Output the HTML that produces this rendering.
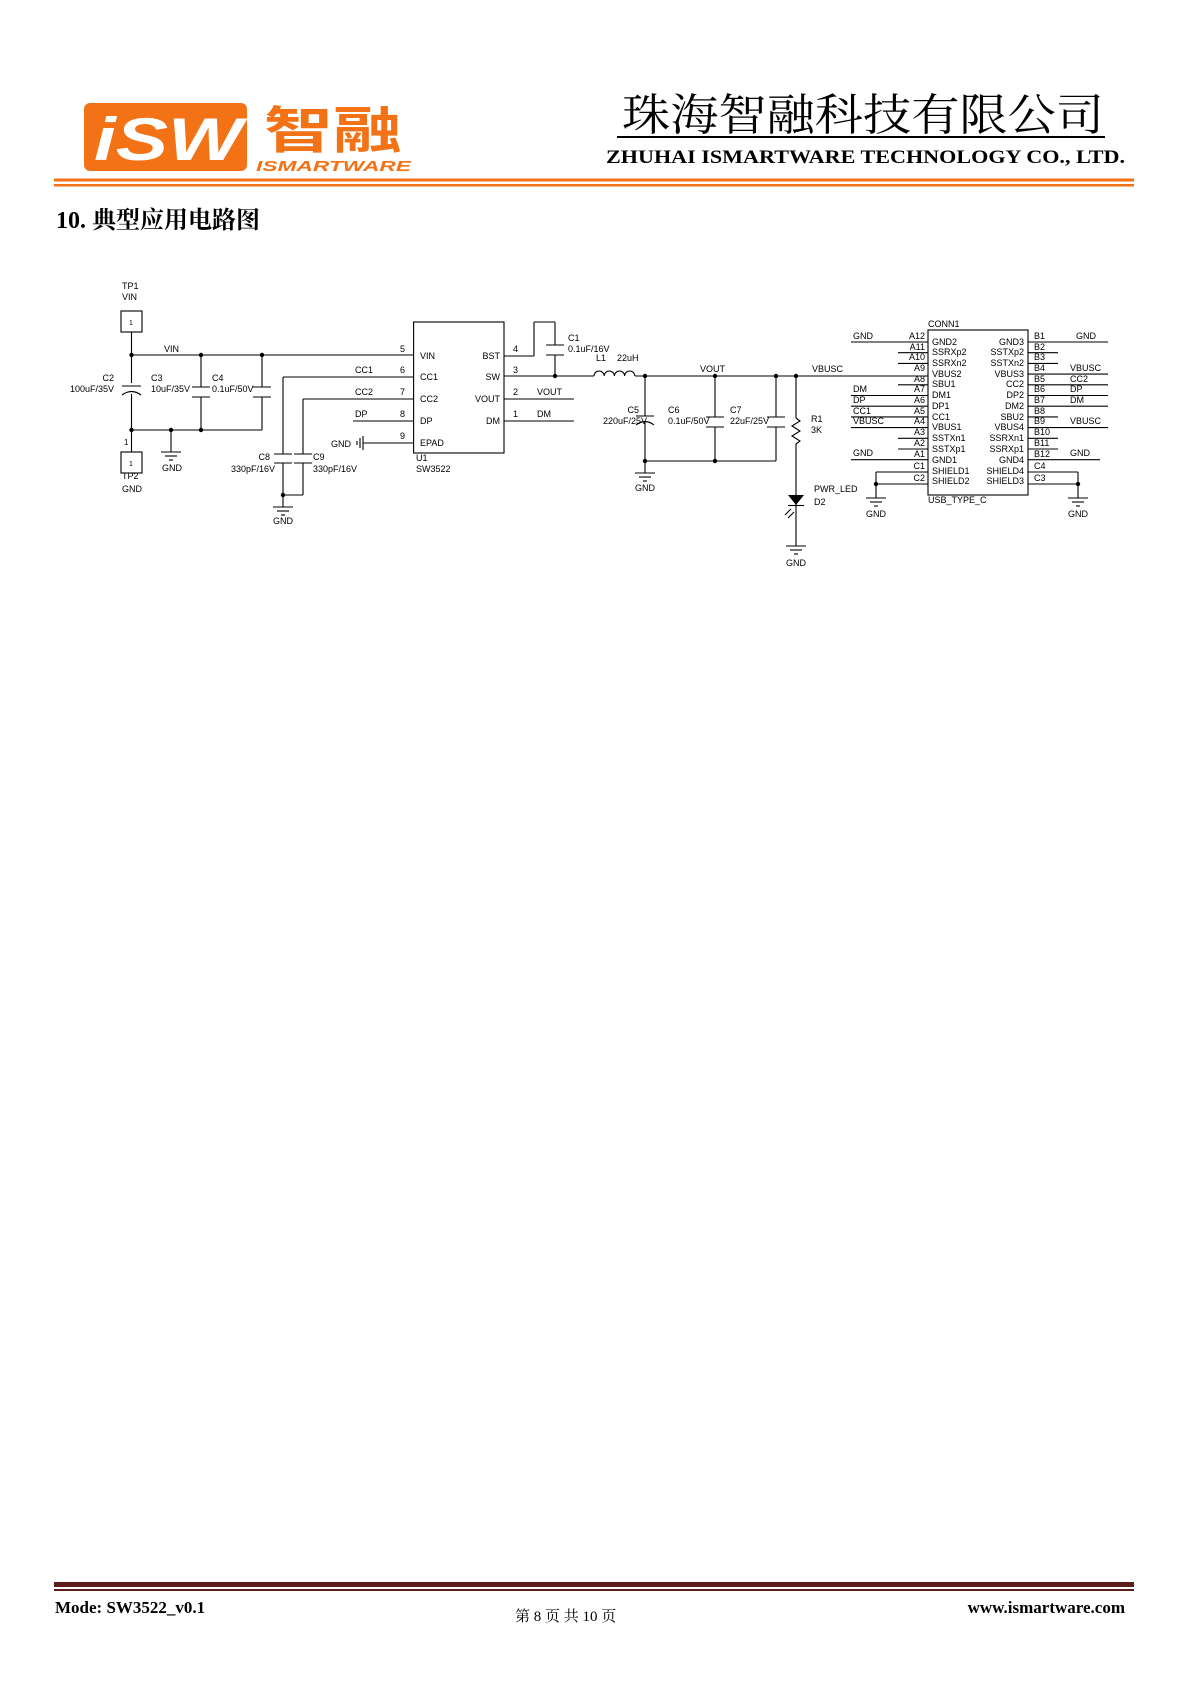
<!DOCTYPE html>
<html><head><meta charset="utf-8"><style>
html,body{margin:0;padding:0;background:#fff;}
svg{display:block;}
.s{font-family:"Liberation Sans",Arial,sans-serif;font-size:9px;fill:#000;}
.w{stroke:#000;stroke-width:1.1;fill:none;}
</style></head><body>
<svg width="1190" height="1683" viewBox="0 0 1190 1683" xmlns="http://www.w3.org/2000/svg">
<!-- Header -->
<rect x="84" y="103" width="163" height="68" rx="6" fill="#f47216"/>
<text x="94" y="160" font-family="Liberation Sans,sans-serif" font-weight="bold" font-style="italic" font-size="60" fill="#fff" textLength="148" lengthAdjust="spacingAndGlyphs">iSW</text>
<text x="264" y="148" font-family="'Liberation Sans','Noto Sans CJK SC',sans-serif" font-weight="bold" font-size="50" fill="#f47216" textLength="138" lengthAdjust="spacingAndGlyphs">智融</text>
<text x="256" y="171" font-family="Liberation Sans,sans-serif" font-weight="bold" font-style="italic" font-size="15" fill="#f47216" textLength="155" lengthAdjust="spacingAndGlyphs">ISMARTWARE</text>
<text x="622" y="130" font-family="'Liberation Serif','Noto Serif CJK SC',serif" font-size="44" fill="#000" textLength="482" lengthAdjust="spacingAndGlyphs">珠海智融科技有限公司</text>
<rect x="617" y="136" width="488" height="2" fill="#000"/>
<text x="606" y="163" font-family="Liberation Serif,serif" font-weight="bold" font-size="19" fill="#000" textLength="519" lengthAdjust="spacingAndGlyphs">ZHUHAI ISMARTWARE TECHNOLOGY CO., LTD.</text>
<rect x="54" y="178.5" width="1080" height="3" fill="#f47216"/>
<rect x="54" y="184" width="1080" height="2.5" fill="#f47216"/>
<text x="56" y="228" font-family="'Liberation Serif','Noto Serif CJK SC',serif" font-weight="bold" font-size="24" fill="#000">10. 典型应用电路图</text>

<!-- Footer -->
<rect x="54" y="1582" width="1080" height="5" fill="#5c1f1c"/>
<rect x="54" y="1589" width="1080" height="2" fill="#5c1f1c"/>
<text x="55" y="1613" font-family="Liberation Serif,serif" font-weight="bold" font-size="17" fill="#000">Mode: SW3522_v0.1</text>
<text x="515" y="1621" font-family="'Liberation Serif','Noto Serif CJK SC',serif" font-size="15" fill="#000">第 8 页 共 10 页</text>
<text x="1125" y="1613" text-anchor="end" font-family="Liberation Serif,serif" font-weight="bold" font-size="17" fill="#000">www.ismartware.com</text>

<!-- Schematic left -->
<g class="w">
<rect x="121" y="311" width="21" height="21"/>
<rect x="121" y="452" width="21" height="21"/>
<line x1="131.5" y1="332" x2="131.5" y2="383"/>
<line x1="131.5" y1="394" x2="131.5" y2="452"/>
<line x1="122" y1="386" x2="141" y2="386"/>
<path d="M122 395 Q131.5 388 141 395"/>
<line x1="131.5" y1="355" x2="413.6" y2="355"/>
<line x1="131.5" y1="430" x2="262" y2="430"/>
<line x1="201" y1="355" x2="201" y2="387"/><line x1="192" y1="387" x2="210" y2="387"/>
<line x1="192" y1="397" x2="210" y2="397"/><line x1="201" y1="397" x2="201" y2="430"/>
<line x1="262" y1="355" x2="262" y2="387"/><line x1="253" y1="387" x2="271" y2="387"/>
<line x1="253" y1="397" x2="271" y2="397"/><line x1="262" y1="397" x2="262" y2="430"/>
<line x1="171" y1="430" x2="171" y2="452"/>
<line x1="161" y1="452" x2="181" y2="452"/><line x1="165" y1="456" x2="177" y2="456"/><line x1="169" y1="460" x2="173" y2="460"/>
<!-- U1 -->
<rect x="413.6" y="322" width="90.4" height="131"/>
<line x1="283" y1="377" x2="413.6" y2="377"/>
<line x1="303" y1="399" x2="413.6" y2="399"/>
<line x1="353" y1="421" x2="413.6" y2="421"/>
<line x1="363.6" y1="443" x2="413.6" y2="443"/>
<line x1="363" y1="436" x2="363" y2="450"/><line x1="360" y1="438" x2="360" y2="448"/><line x1="357" y1="441" x2="357" y2="445"/>
<line x1="283" y1="377" x2="283" y2="454"/><line x1="274" y1="454" x2="292" y2="454"/>
<line x1="274" y1="463" x2="292" y2="463"/><line x1="283" y1="463" x2="283" y2="507"/>
<line x1="303" y1="399" x2="303" y2="454"/><line x1="294" y1="454" x2="312" y2="454"/>
<line x1="294" y1="463" x2="312" y2="463"/><line x1="303" y1="463" x2="303" y2="495"/>
<line x1="283" y1="495" x2="303" y2="495"/>
<line x1="273" y1="507" x2="293" y2="507"/><line x1="277" y1="511" x2="289" y2="511"/><line x1="281" y1="515" x2="285" y2="515"/>
<line x1="504" y1="356" x2="534" y2="356"/><line x1="534" y1="356" x2="534" y2="322"/>
<line x1="534" y1="322" x2="555" y2="322"/><line x1="555" y1="322" x2="555" y2="345"/>
<line x1="546" y1="345" x2="564" y2="345"/><line x1="546" y1="355" x2="564" y2="355"/>
<line x1="555" y1="355" x2="555" y2="376"/>
<line x1="504" y1="376" x2="594" y2="376"/>
<line x1="504" y1="399" x2="574" y2="399"/>
<line x1="504" y1="421" x2="574" y2="421"/>
<!-- inductor -->
<path d="M594 376 a5.1 5 0 0 1 10.2 0 a5.1 5 0 0 1 10.2 0 a5.1 5 0 0 1 10.2 0 a5.1 5 0 0 1 10.2 0"/>
<line x1="635" y1="376" x2="928" y2="376"/>
<line x1="645" y1="376" x2="645" y2="416"/><line x1="636" y1="416" x2="654" y2="416"/>
<path d="M636 425 Q645 418 654 425"/><line x1="645" y1="421" x2="645" y2="473"/>
<line x1="715" y1="376" x2="715" y2="417"/><line x1="706" y1="417" x2="724" y2="417"/>
<line x1="706" y1="427" x2="724" y2="427"/><line x1="715" y1="427" x2="715" y2="461"/>
<line x1="776" y1="376" x2="776" y2="417"/><line x1="767" y1="417" x2="785" y2="417"/>
<line x1="767" y1="427" x2="785" y2="427"/><line x1="776" y1="427" x2="776" y2="461"/>
<line x1="645" y1="461" x2="776" y2="461"/>
<line x1="635" y1="473" x2="655" y2="473"/><line x1="639" y1="477" x2="651" y2="477"/><line x1="643" y1="481" x2="647" y2="481"/>
<line x1="796" y1="376" x2="796" y2="418"/>
<path d="M796 418 l4 3 l-8 5 l8 5 l-8 5 l8 5 l-4 3"/>
<line x1="796" y1="444" x2="796" y2="546"/>
<line x1="786" y1="546" x2="806" y2="546"/><line x1="790" y1="550" x2="802" y2="550"/><line x1="794" y1="554" x2="798" y2="554"/>
<line x1="788" y1="505.5" x2="804" y2="505.5"/>
<line x1="791" y1="509" x2="785" y2="515"/><line x1="794" y1="512" x2="788" y2="518"/>
</g>
<polygon points="788,495 804,495 796,505" fill="#000"/>
<g fill="#000">
<circle cx="131.5" cy="355" r="2.2"/><circle cx="201" cy="355" r="2.2"/><circle cx="262" cy="355" r="2.2"/>
<circle cx="131.5" cy="430" r="2.2"/><circle cx="171" cy="430" r="2.2"/><circle cx="201" cy="430" r="2.2"/>
<circle cx="283" cy="495" r="2.2"/><circle cx="555" cy="376" r="2.2"/>
<circle cx="645" cy="376" r="2.2"/><circle cx="715" cy="376" r="2.2"/><circle cx="776" cy="376" r="2.2"/><circle cx="796" cy="376" r="2.2"/>
<circle cx="645" cy="461" r="2.2"/><circle cx="715" cy="461" r="2.2"/>
<circle cx="876" cy="484" r="2.2"/><circle cx="1078" cy="484" r="2.2"/>
</g>
<g class="s">
<text x="122" y="289">TP1</text><text x="122" y="300">VIN</text>
<text x="129" y="325" font-size="7">1</text><text x="129" y="466" font-size="7">1</text>
<text x="124" y="445" font-size="8">1</text>
<text x="122" y="479">TP2</text><text x="122" y="492">GND</text>
<text x="164" y="352">VIN</text>
<text x="114" y="381" text-anchor="end">C2</text><text x="114" y="392" text-anchor="end">100uF/35V</text>
<text x="151" y="381">C3</text><text x="151" y="392">10uF/35V</text>
<text x="212" y="381">C4</text><text x="212" y="392">0.1uF/50V</text>
<text x="162" y="471">GND</text>
<text x="355" y="373">CC1</text><text x="355" y="395">CC2</text><text x="355" y="417">DP</text>
<text x="331" y="447">GND</text>
<text x="400" y="352">5</text><text x="400" y="373">6</text><text x="400" y="395">7</text><text x="400" y="417">8</text><text x="400" y="439">9</text>
<text x="420" y="359">VIN</text><text x="420" y="380">CC1</text><text x="420" y="402">CC2</text><text x="420" y="424">DP</text><text x="420" y="446">EPAD</text>
<text x="500" y="359" text-anchor="end">BST</text><text x="500" y="380" text-anchor="end">SW</text><text x="500" y="402" text-anchor="end">VOUT</text><text x="500" y="424" text-anchor="end">DM</text>
<text x="513" y="352">4</text><text x="513" y="373">3</text><text x="513" y="395">2</text><text x="513" y="417">1</text>
<text x="537" y="395">VOUT</text><text x="537" y="417">DM</text>
<text x="416" y="461">U1</text><text x="416" y="472">SW3522</text>
<text x="270" y="460" text-anchor="end">C8</text><text x="275" y="472" text-anchor="end">330pF/16V</text>
<text x="313" y="460">C9</text><text x="313" y="472">330pF/16V</text>
<text x="273" y="524">GND</text>
<text x="568" y="341">C1</text><text x="568" y="352">0.1uF/16V</text>
<text x="596" y="361">L1</text><text x="617" y="361">22uH</text>
<text x="700" y="372">VOUT</text><text x="812" y="372">VBUSC</text>
<text x="639" y="413" text-anchor="end">C5</text><text x="647" y="424" text-anchor="end">220uF/25V</text>
<text x="668" y="413">C6</text><text x="668" y="424">0.1uF/50V</text>
<text x="730" y="413">C7</text><text x="730" y="424">22uF/25V</text>
<text x="635" y="491">GND</text>
<text x="811" y="422">R1</text><text x="811" y="433">3K</text>
<text x="814" y="492">PWR_LED</text><text x="814" y="505">D2</text>
<text x="786" y="566">GND</text>
</g>
<!-- CONN1 -->
<g class="w">
<rect x="928" y="330" width="100" height="165"/>
<line x1="851" y1="342" x2="928" y2="342"/>
<line x1="898" y1="352.7" x2="928" y2="352.7"/>
<line x1="898" y1="363.4" x2="928" y2="363.4"/>
<line x1="898" y1="384.8" x2="928" y2="384.8"/>
<line x1="851" y1="395.5" x2="928" y2="395.5"/>
<line x1="851" y1="406.2" x2="928" y2="406.2"/>
<line x1="851" y1="416.9" x2="928" y2="416.9"/>
<line x1="851" y1="427.6" x2="928" y2="427.6"/>
<line x1="898" y1="438.3" x2="928" y2="438.3"/>
<line x1="898" y1="449" x2="928" y2="449"/>
<line x1="851" y1="459.7" x2="928" y2="459.7"/>
<line x1="876" y1="472" x2="928" y2="472"/>
<line x1="876" y1="484" x2="928" y2="484"/>
<line x1="876" y1="472" x2="876" y2="498"/>
<line x1="866" y1="498" x2="886" y2="498"/><line x1="870" y1="502" x2="882" y2="502"/><line x1="874" y1="506" x2="878" y2="506"/>
<line x1="1028" y1="342" x2="1108" y2="342"/>
<line x1="1028" y1="352.7" x2="1058" y2="352.7"/>
<line x1="1028" y1="363.4" x2="1058" y2="363.4"/>
<line x1="1028" y1="374.1" x2="1108" y2="374.1"/>
<line x1="1028" y1="384.8" x2="1108" y2="384.8"/>
<line x1="1028" y1="395.5" x2="1108" y2="395.5"/>
<line x1="1028" y1="406.2" x2="1108" y2="406.2"/>
<line x1="1028" y1="416.9" x2="1058" y2="416.9"/>
<line x1="1028" y1="427.6" x2="1108" y2="427.6"/>
<line x1="1028" y1="438.3" x2="1058" y2="438.3"/>
<line x1="1028" y1="449" x2="1058" y2="449"/>
<line x1="1028" y1="459.7" x2="1100" y2="459.7"/>
<line x1="1028" y1="472" x2="1078" y2="472"/>
<line x1="1028" y1="484" x2="1078" y2="484"/>
<line x1="1078" y1="472" x2="1078" y2="498"/>
<line x1="1068" y1="498" x2="1088" y2="498"/><line x1="1072" y1="502" x2="1084" y2="502"/><line x1="1076" y1="506" x2="1080" y2="506"/>
</g>
<g class="s">
<text x="928" y="327">CONN1</text><text x="928" y="503">USB_TYPE_C</text>
<text x="866" y="517">GND</text><text x="1068" y="517">GND</text>
<text x="853" y="339">GND</text><text x="853" y="392">DM</text><text x="853" y="403">DP</text><text x="853" y="414">CC1</text><text x="853" y="424">VBUSC</text><text x="853" y="456">GND</text>
<text x="1076" y="339">GND</text><text x="1070" y="371">VBUSC</text><text x="1070" y="382">CC2</text><text x="1070" y="392">DP</text><text x="1070" y="403">DM</text><text x="1070" y="424">VBUSC</text><text x="1070" y="456">GND</text>
<g text-anchor="end">
<text x="925" y="339">A12</text><text x="925" y="350">A11</text><text x="925" y="360">A10</text><text x="925" y="371">A9</text><text x="925" y="382">A8</text><text x="925" y="392">A7</text><text x="925" y="403">A6</text><text x="925" y="414">A5</text><text x="925" y="424">A4</text><text x="925" y="435">A3</text><text x="925" y="446">A2</text><text x="925" y="457">A1</text><text x="925" y="469">C1</text><text x="925" y="481">C2</text>
<text x="1024" y="345">GND3</text><text x="1024" y="355">SSTXp2</text><text x="1024" y="366">SSTXn2</text><text x="1024" y="377">VBUS3</text><text x="1024" y="387">CC2</text><text x="1024" y="398">DP2</text><text x="1024" y="409">DM2</text><text x="1024" y="420">SBU2</text><text x="1024" y="430">VBUS4</text><text x="1024" y="441">SSRXn1</text><text x="1024" y="452">SSRXp1</text><text x="1024" y="463">GND4</text><text x="1024" y="474">SHIELD4</text><text x="1024" y="484">SHIELD3</text>
</g>
<text x="932" y="345">GND2</text><text x="932" y="355">SSRXp2</text><text x="932" y="366">SSRXn2</text><text x="932" y="377">VBUS2</text><text x="932" y="387">SBU1</text><text x="932" y="398">DM1</text><text x="932" y="409">DP1</text><text x="932" y="420">CC1</text><text x="932" y="430">VBUS1</text><text x="932" y="441">SSTXn1</text><text x="932" y="452">SSTXp1</text><text x="932" y="463">GND1</text><text x="932" y="474">SHIELD1</text><text x="932" y="484">SHIELD2</text>
<text x="1034" y="339">B1</text><text x="1034" y="350">B2</text><text x="1034" y="360">B3</text><text x="1034" y="371">B4</text><text x="1034" y="382">B5</text><text x="1034" y="392">B6</text><text x="1034" y="403">B7</text><text x="1034" y="414">B8</text><text x="1034" y="424">B9</text><text x="1034" y="435">B10</text><text x="1034" y="446">B11</text><text x="1034" y="457">B12</text><text x="1034" y="469">C4</text><text x="1034" y="481">C3</text>
</g>
</svg>
</body></html>
